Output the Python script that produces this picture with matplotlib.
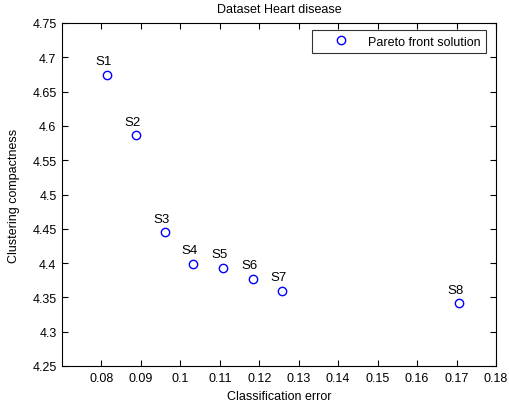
import matplotlib
matplotlib.use("Agg")
import matplotlib.pyplot as plt

plt.rcParams['font.family'] = ['Liberation Sans', 'DejaVu Sans']

labels = ["S1", "S2", "S3", "S4", "S5", "S6", "S7", "S8"]
class_error = [0.0813, 0.0887, 0.0961, 0.1033, 0.1109, 0.1184, 0.1258, 0.1706]
compactness = [4.6746, 4.5863, 4.4449, 4.3991, 4.3933, 4.3773, 4.3598, 4.3414]
xticks = [0.08, 0.09, 0.10, 0.11, 0.12, 0.13, 0.14, 0.15, 0.16, 0.17, 0.18]
xticklabels = ["0.08", "0.09", "0.1", "0.11", "0.12", "0.13", "0.14", "0.15", "0.16", "0.17", "0.18"]
yticks = [4.25, 4.3, 4.35, 4.4, 4.45, 4.5, 4.55, 4.6, 4.65, 4.7, 4.75]
yticklabels = ["4.25", "4.3", "4.35", "4.4", "4.45", "4.5", "4.55", "4.6", "4.65", "4.7", "4.75"]

FS = 9

fig = plt.figure(figsize=(5.09, 4.10), dpi=100)
ax = fig.add_axes([62 / 509, 43 / 410, 434 / 509, 343 / 410])

ax.plot(class_error, compactness, linestyle='none', marker='o', markersize=6,
        markerfacecolor='none', markeredgecolor='#0000ff', markeredgewidth=1.0,
        label='Pareto front solution')

for lab, x, y in zip(labels, class_error, compactness):
    ax.annotate(lab, (x, y), xytext=(-2.5, 7.5), textcoords='offset points',
                ha='center', va='baseline', fontsize=9.5, color='black')

ax.set_xlim(0.07, 0.18)
ax.set_ylim(4.25, 4.75)
ax.set_xticks(xticks)
ax.set_xticklabels(xticklabels)
ax.set_yticks(yticks)
ax.set_yticklabels(yticklabels)
ax.tick_params(direction='in', length=4, width=0.8, labelsize=FS,
               top=True, right=True, pad=4)
for s in ax.spines.values():
    s.set_linewidth(0.8)

ax.set_xlabel('Classification error', fontsize=FS, labelpad=5)
ax.set_ylabel('Clustering compactness', fontsize=FS, labelpad=9)
ax.set_title('Dataset Heart disease', fontsize=FS, pad=8)

leg = ax.legend(loc='upper right', fontsize=FS, frameon=True, fancybox=False,
                edgecolor='black', borderpad=0.45, handletextpad=0.3,
                handlelength=3.7, borderaxespad=0,
                bbox_to_anchor=((486 - 62) / 434, (367 - 31) / 343))
leg.get_frame().set_linewidth(0.8)

fig.savefig('out.png', dpi=100, facecolor='white')
